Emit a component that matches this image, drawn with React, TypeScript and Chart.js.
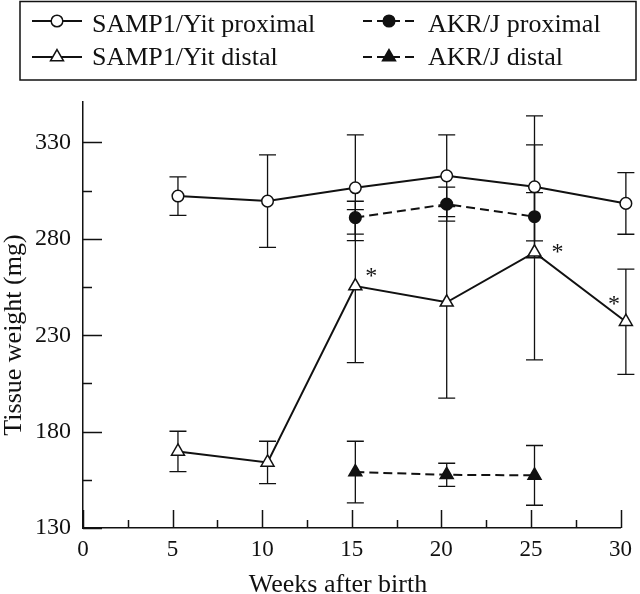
import React, { useEffect, useRef } from "react";
import { Chart, registerables } from "chart.js";

Chart.register(...registerables);

// ---------- data ----------
const weeks = [5.3, 10.3, 15.2, 20.3, 25.2, 30.3];
const akrWeeks = [15.2, 20.3, 25.2];

const sampProximal = [302.2, 299.6, 306.5, 312.7, 307, 298.4];
const sampProximalErr = [10, 24, 27.4, 21.2, 36.8, 16];
const sampDistal = [169.7, 164, 255.5, 247.1, 273, 237];
const sampDistalErr = [10.5, 11, 39.7, 49.7, 55.8, 27.3];
const akrProximal = [291, 298, 291.5];
const akrProximalErr = [8.5, 8.8, 12.5];
const akrDistal = [159, 157.6, 157.3];
const akrDistalErr = [16, 6, 15.5];

const yTicks = [130, 180, 230, 280, 330];
const yMinorTicks = [155, 205, 255, 305];
const xTicks = [0, 5, 10, 15, 20, 25, 30];
const xMinorTicks = [2.5, 7.5, 12.5, 17.5, 22.5, 27.5];

// indices into SAMP1/Yit distal marked as significant
const significantIdx = [2, 4, 5];

const xTitle = "Weeks after birth";
const yTitle = "Tissue weight (mg)";

// ---------- styles ----------
const FONT = '"Liberation Serif", "Times New Roman", serif';
const INK = "#111";
const DASH = [9, 5];

function drawMarker(ctx: CanvasRenderingContext2D, style: string, x: number, y: number, r: number, filled: boolean) {
  ctx.save();
  ctx.beginPath();
  if (style === "circle") {
    ctx.arc(x, y, r, 0, Math.PI * 2);
  } else {
    for (let k = 0; k < 3; k++) {
      const a = (k * 2 * Math.PI) / 3;
      const px = x + Math.sin(a) * r;
      const py = y - Math.cos(a) * r;
      if (k === 0) ctx.moveTo(px, py);
      else ctx.lineTo(px, py);
    }
    ctx.closePath();
  }
  ctx.fillStyle = filled ? INK : "#fff";
  ctx.fill();
  ctx.setLineDash([]);
  ctx.lineWidth = 1.5;
  ctx.strokeStyle = INK;
  ctx.stroke();
  ctx.restore();
}

const errorBarPlugin = {
  id: "errorBars",
  beforeDatasetsDraw(chart: any) {
    const { ctx } = chart;
    const yScale = chart.scales.y;
    ctx.save();
    ctx.strokeStyle = INK;
    ctx.lineWidth = 1.3;
    ctx.setLineDash([]);
    chart.data.datasets.forEach((ds: any, i: number) => {
      const meta = chart.getDatasetMeta(i);
      meta.data.forEach((pt: any, j: number) => {
        const v = ds.data[j].y;
        const e = ds.errors[j];
        const top = yScale.getPixelForValue(v + e);
        const bot = yScale.getPixelForValue(v - e);
        const x = pt.x;
        ctx.beginPath();
        ctx.moveTo(x, top);
        ctx.lineTo(x, bot);
        ctx.moveTo(x - 8.5, top);
        ctx.lineTo(x + 8.5, top);
        ctx.moveTo(x - 8.5, bot);
        ctx.lineTo(x + 8.5, bot);
        ctx.stroke();
      });
    });
    ctx.restore();
  },
};

const axisDecorPlugin = {
  id: "axisDecor",
  beforeDatasetsDraw(chart: any) {
    const { ctx, chartArea } = chart;
    const xs = chart.scales.x;
    const ys = chart.scales.y;
    ctx.save();
    ctx.strokeStyle = INK;
    ctx.lineWidth = 1.5;
    ctx.beginPath();
    yTicks.forEach((v) => {
      const y = Math.round(ys.getPixelForValue(v)) + 0.5;
      ctx.moveTo(chartArea.left, y);
      ctx.lineTo(chartArea.left + 19, y);
    });
    yMinorTicks.forEach((v) => {
      const y = Math.round(ys.getPixelForValue(v)) + 0.5;
      ctx.moveTo(chartArea.left, y);
      ctx.lineTo(chartArea.left + 9, y);
    });
    xTicks.forEach((v) => {
      const x = Math.round(xs.getPixelForValue(v)) + 0.5;
      ctx.moveTo(x, chartArea.bottom);
      ctx.lineTo(x, chartArea.bottom - 18);
    });
    xMinorTicks.forEach((v) => {
      const x = Math.round(xs.getPixelForValue(v)) + 0.5;
      ctx.moveTo(x, chartArea.bottom);
      ctx.lineTo(x, chartArea.bottom - 8);
    });
    ctx.stroke();
    ctx.restore();
  },
  afterDraw(chart: any) {
    const { ctx } = chart;
    ctx.save();
    ctx.fillStyle = INK;
    ctx.font = `26px ${FONT}`;
    ctx.textAlign = "center";
    ctx.textBaseline = "alphabetic";
    ctx.fillText(xTitle, 338, 592);
    ctx.translate(21, 335);
    ctx.rotate(-Math.PI / 2);
    ctx.fillText(yTitle, 0, 0);
    ctx.restore();
  },
};

const asteriskPlugin = {
  id: "asterisks",
  afterDatasetsDraw(chart: any) {
    const { ctx } = chart;
    const meta = chart.getDatasetMeta(1); // SAMP1/Yit distal
    const offsets: Record<number, [number, number]> = { 2: [16, -14], 4: [23, -4], 5: [-12, -22] };
    ctx.save();
    ctx.fillStyle = INK;
    ctx.font = `24px ${FONT}`;
    ctx.textAlign = "center";
    ctx.textBaseline = "alphabetic";
    significantIdx.forEach((j) => {
      const pt = meta.data[j];
      const [dx, dy] = offsets[j];
      ctx.fillText("*", pt.x + dx, pt.y + dy + 11);
    });
    ctx.restore();
  },
};

const legendPlugin = {
  id: "boxLegend",
  afterDraw(chart: any) {
    const { ctx } = chart;
    ctx.save();
    ctx.strokeStyle = INK;
    ctx.lineWidth = 1.5;
    ctx.strokeRect(20, 1.5, 616, 78.5);
    const cols = [
      { x0: 32, x1: 82, mx: 57, tx: 92 },
      { x0: 363, x1: 415, mx: 389, tx: 428 },
    ];
    const rows = [
      { my: 21, ty: 32 },
      { my: 57, ty: 65 },
    ];
    const slots = [
      [0, 0],
      [0, 1],
      [1, 0],
      [1, 1],
    ];
    chart.data.datasets.forEach((ds: any, i: number) => {
      const c = cols[slots[i][0]];
      const r = rows[slots[i][1]];
      ctx.beginPath();
      ctx.setLineDash(ds.borderDash || []);
      ctx.lineWidth = 2;
      ctx.moveTo(c.x0, r.my);
      ctx.lineTo(c.x1, r.my);
      ctx.stroke();
      drawMarker(ctx, ds.pointStyle, c.mx, r.my, ds.pointRadius, ds.pointBackgroundColor !== "#fff");
      ctx.setLineDash([]);
      ctx.fillStyle = INK;
      ctx.font = `26px ${FONT}`;
      ctx.textAlign = "left";
      ctx.textBaseline = "alphabetic";
      ctx.fillText(ds.label, c.tx, r.ty);
    });
    ctx.restore();
  },
};

function makeDataset(label: string, xs: number[], ys: number[], errs: number[], style: string, filled: boolean, dashed: boolean) {
  return {
    label,
    data: xs.map((x, i) => ({ x, y: ys[i] })),
    errors: errs,
    borderColor: INK,
    borderWidth: 2,
    borderDash: dashed ? DASH : [],
    pointStyle: style,
    pointRadius: style === "circle" ? 5.8 : 7.5,
    pointBorderWidth: 1.5,
    pointBorderColor: INK,
    pointBackgroundColor: filled ? INK : "#fff",
    fill: false,
    tension: 0,
    clip: false,
  };
}

export default function App() {
  const ref = useRef<HTMLCanvasElement | null>(null);

  useEffect(() => {
    document.body.style.margin = "0";
    const canvas = ref.current;
    if (!canvas) return;
    const chart = new Chart(canvas, {
      type: "line",
      data: {
        datasets: [
          makeDataset("SAMP1/Yit proximal", weeks, sampProximal, sampProximalErr, "circle", false, false),
          makeDataset("SAMP1/Yit distal", weeks, sampDistal, sampDistalErr, "triangle", false, false),
          makeDataset("AKR/J proximal", akrWeeks, akrProximal, akrProximalErr, "circle", true, true),
          makeDataset("AKR/J distal", akrWeeks, akrDistal, akrDistalErr, "triangle", true, true),
        ] as any,
      },
      options: {
        responsive: false,
        animation: false,
        devicePixelRatio: 1,
        layout: { padding: { top: 102, right: 13, left: 0, bottom: 0 } },
        plugins: { legend: { display: false }, tooltip: { enabled: false } },
        scales: {
          x: {
            type: "linear",
            min: 0,
            max: 30,
            afterBuildTicks: (s: any) => {
              s.ticks = xTicks.map((v) => ({ value: v }));
            },
            afterFit: (s: any) => {
              s.height = 66;
            },
            grid: { display: false, drawTicks: false },
            border: { display: true, color: INK, width: 1.5 },
            ticks: { color: INK, font: { family: FONT, size: 23 }, padding: 8, maxRotation: 0 },
          },
          y: {
            type: "linear",
            min: 130,
            max: 351,
            afterBuildTicks: (s: any) => {
              s.ticks = yTicks.map((v) => ({ value: v }));
            },
            afterFit: (s: any) => {
              s.width = 83;
            },
            grid: { display: false, drawTicks: false },
            border: { display: true, color: INK, width: 1.5 },
            ticks: { color: INK, font: { family: FONT, size: 24 }, padding: 12 },
          },
        },
      } as any,
      plugins: [errorBarPlugin, axisDecorPlugin, asteriskPlugin, legendPlugin],
    });
    return () => chart.destroy();
  }, []);

  return (
    <div style={{ width: 640, height: 594, background: "#fff" }}>
      <canvas ref={ref} width={640} height={594} style={{ display: "block" }} />
    </div>
  );
}
